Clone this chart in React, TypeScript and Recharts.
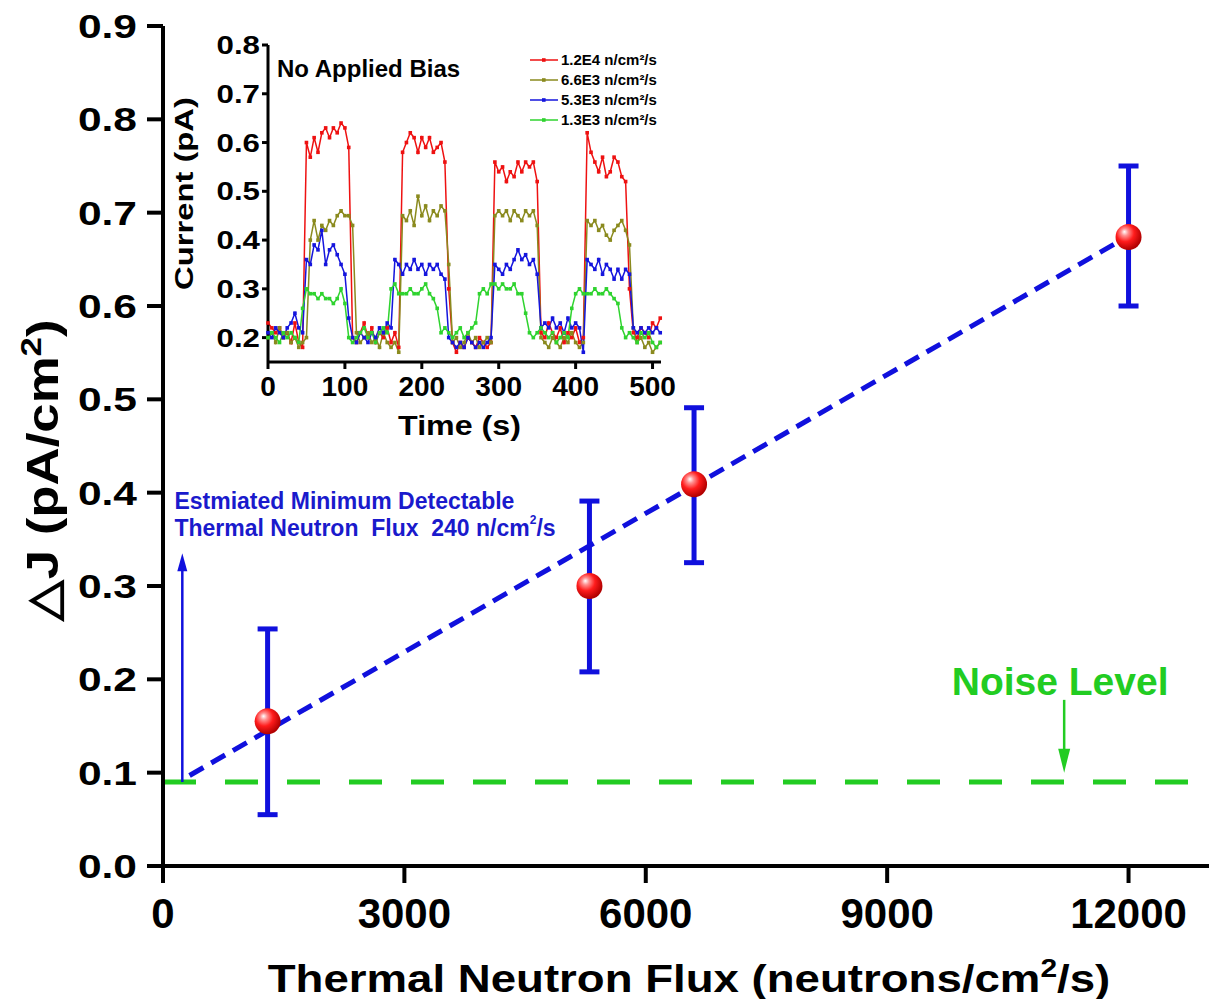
import React from "react";
import {
  ComposedChart,
  LineChart,
  Line,
  Scatter,
  ErrorBar,
  XAxis,
  YAxis,
  ReferenceLine,
  ReferenceDot,
  Legend,
  Label,
} from "recharts";

const FONT = "'Liberation Sans', Arial, Helvetica, sans-serif";

// ---- main chart data ----
const flux = [1300, 5300, 6600, 12000];
const deltaJ = [0.155, 0.3, 0.409, 0.674];
const errLow = [0.055, 0.208, 0.325, 0.6];
const errHigh = [0.254, 0.391, 0.491, 0.75];

const fitX = [330, 12000];
const fitY = [0.097, 0.675];

const noiseLevel = 0.09;
const minFlux = 240;
const minArrowTop = 0.335;
const noiseArrowX = 11200;
const noiseArrowTop = 0.178;
const noiseArrowTip = 0.1;

const xTicks = [0, 3000, 6000, 9000, 12000];
const yTicks = [0, 0.1, 0.2, 0.3, 0.4, 0.5, 0.6, 0.7, 0.8, 0.9];

// ---- inset data (time in s, current in pA) ----
const time = [
  0, 5, 10, 15, 20, 25, 30, 35, 40, 45,
  50, 55, 60, 65, 70, 75, 80, 85, 90, 95,
  100, 105, 110, 115, 120, 125, 130, 135, 140, 145,
  150, 155, 160, 165, 170, 175, 180, 185, 190, 195,
  200, 205, 210, 215, 220, 225, 230, 235, 240, 245,
  250, 255, 260, 265, 270, 275, 280, 285, 290, 295,
  300, 305, 310, 315, 320, 325, 330, 335, 340, 345,
  350, 355, 360, 365, 370, 375, 380, 385, 390, 395,
  400, 405, 410, 415, 420, 425, 430, 435, 440, 445,
  450, 455, 460, 465, 470, 475, 480, 485, 490, 495,
  500, 505, 510,
];

const flux12E4 = [
  0.23, 0.22, 0.21, 0.22, 0.2, 0.21, 0.19, 0.23, 0.19, 0.18,
  0.6, 0.57, 0.61, 0.58, 0.62, 0.63, 0.61, 0.63, 0.62, 0.64,
  0.63, 0.59, 0.2, 0.19, 0.21, 0.23, 0.2, 0.22, 0.19, 0.21,
  0.2, 0.22, 0.19, 0.21, 0.18, 0.58, 0.6, 0.62, 0.61, 0.58,
  0.61, 0.59, 0.61, 0.58, 0.59, 0.6, 0.56, 0.3, 0.19, 0.17,
  0.19, 0.18, 0.2, 0.19, 0.18, 0.2, 0.19, 0.18, 0.19, 0.56,
  0.54, 0.55, 0.52, 0.54, 0.53, 0.56, 0.54, 0.56, 0.55, 0.56,
  0.52, 0.21, 0.2, 0.23, 0.21, 0.2, 0.22, 0.19, 0.21, 0.2,
  0.22, 0.19, 0.2, 0.62, 0.58, 0.56, 0.54, 0.57, 0.53, 0.54,
  0.57, 0.56, 0.53, 0.52, 0.3, 0.21, 0.2, 0.22, 0.21, 0.2,
  0.23, 0.22, 0.24,
];

const flux66E3 = [
  0.2, 0.21, 0.19, 0.22, 0.2, 0.21, 0.19, 0.2, 0.18, 0.19,
  0.2, 0.4, 0.44, 0.4, 0.43, 0.42, 0.44, 0.43, 0.45, 0.46,
  0.45, 0.45, 0.43, 0.21, 0.19, 0.2, 0.21, 0.19, 0.2, 0.18,
  0.21, 0.19, 0.18, 0.19, 0.17, 0.45, 0.44, 0.46, 0.43, 0.49,
  0.45, 0.47, 0.44, 0.46, 0.45, 0.47, 0.46, 0.35, 0.19, 0.2,
  0.18, 0.19, 0.21, 0.19, 0.2, 0.18, 0.19, 0.2, 0.19, 0.45,
  0.46, 0.45, 0.46, 0.44, 0.46, 0.45, 0.44, 0.46, 0.45, 0.46,
  0.43, 0.2, 0.19, 0.18, 0.2, 0.19, 0.18, 0.2, 0.19, 0.21,
  0.19, 0.18, 0.19, 0.44, 0.43, 0.44, 0.42, 0.43, 0.41, 0.4,
  0.42, 0.43, 0.44, 0.42, 0.39, 0.22, 0.19, 0.2, 0.18, 0.19,
  0.17, 0.18, 0.19,
];

const flux53E3 = [
  0.21, 0.2, 0.22, 0.21, 0.2, 0.22, 0.23, 0.25, 0.22, 0.21,
  0.36, 0.35, 0.39, 0.38, 0.42, 0.35, 0.38, 0.39, 0.37, 0.35,
  0.33, 0.24, 0.2, 0.19, 0.21, 0.2, 0.19, 0.21, 0.2, 0.22,
  0.21, 0.23, 0.22, 0.36, 0.35, 0.33, 0.35, 0.34, 0.36, 0.34,
  0.35, 0.33, 0.35, 0.34, 0.35, 0.33, 0.32, 0.2, 0.19, 0.18,
  0.19, 0.18, 0.2, 0.19, 0.18, 0.19, 0.18, 0.19, 0.2, 0.35,
  0.34, 0.33, 0.35, 0.34, 0.36, 0.38, 0.36, 0.37, 0.35, 0.36,
  0.33, 0.22, 0.23, 0.22, 0.24, 0.22, 0.23, 0.21, 0.24, 0.22,
  0.23, 0.22, 0.17, 0.36, 0.35, 0.34, 0.36, 0.33, 0.35, 0.34,
  0.32, 0.34, 0.32, 0.34, 0.33, 0.22, 0.21, 0.22, 0.21, 0.22,
  0.21, 0.22, 0.21,
];

const flux13E3 = [
  0.2, 0.21, 0.2, 0.19, 0.21, 0.2, 0.21, 0.2, 0.19, 0.26,
  0.3, 0.29, 0.29, 0.28, 0.29, 0.28, 0.28, 0.27, 0.28, 0.3,
  0.27, 0.2, 0.19, 0.2, 0.21, 0.22, 0.2, 0.21, 0.19, 0.21,
  0.22, 0.21, 0.3, 0.31, 0.29, 0.29, 0.29, 0.3, 0.29, 0.29,
  0.3, 0.31, 0.29, 0.28, 0.26, 0.21, 0.22, 0.21, 0.2, 0.21,
  0.22, 0.2, 0.21, 0.22, 0.23, 0.29, 0.3, 0.29, 0.31, 0.31,
  0.3, 0.31, 0.3, 0.3, 0.31, 0.29, 0.29, 0.25, 0.21, 0.2,
  0.21, 0.22, 0.21, 0.2, 0.21, 0.19, 0.2, 0.21, 0.2, 0.26,
  0.29, 0.3, 0.29, 0.29, 0.29, 0.3, 0.29, 0.29, 0.3, 0.29,
  0.28, 0.27, 0.22, 0.2, 0.21, 0.2, 0.19, 0.21, 0.2, 0.21,
  0.19, 0.18, 0.19,
];

const insetSeries = [
  { key: "s1", name: "1.2E4 n/cm²/s", color: "#ee1111", values: flux12E4 },
  { key: "s2", name: "6.6E3 n/cm²/s", color: "#8a8a1e", values: flux66E3 },
  { key: "s3", name: "5.3E3 n/cm²/s", color: "#1515dd", values: flux53E3 },
  { key: "s4", name: "1.3E3 n/cm²/s", color: "#2fd32f", values: flux13E3 },
];

const insetXTicks = [0, 100, 200, 300, 400, 500];
const insetYTicks = [0.2, 0.3, 0.4, 0.5, 0.6, 0.7, 0.8];

const points = flux.map((x, i) => ({
  x,
  y: deltaJ[i],
  err: [deltaJ[i] - errLow[i], errHigh[i] - deltaJ[i]],
}));
const fitData = fitX.map((x, i) => ({ x, y: fitY[i] }));
const insetData = time.map((t, i) => {
  const row: any = { t };
  insetSeries.forEach((s) => (row[s.key] = s.values[i]));
  return row;
});

const BLUE = "#1010dd";
const GREEN = "#22cc22";
const AXIS = { stroke: "#000", strokeWidth: 4 };
const AXIS_IN = { stroke: "#000", strokeWidth: 3 };
const NB = "\u00a0";

const Sphere = (p: any) => {
  const id = `ball${p.index}`;
  return (
    <g>
      <defs>
        <radialGradient id={id} cx="0.4" cy="0.38" r="0.62" fx="0.34" fy="0.3">
          <stop offset="0" stopColor="#ffffff" />
          <stop offset="0.22" stopColor="#ff9090" />
          <stop offset="0.55" stopColor="#ff1c1c" />
          <stop offset="1" stopColor="#b00000" />
        </radialGradient>
      </defs>
      <circle cx={p.cx} cy={p.cy} r={13} fill={`url(#${id})`} />
    </g>
  );
};

const MainYTick = (p: any) => (
  <text
    transform={`translate(${p.x},${p.y}) scale(1.25,1)`}
    dy={12}
    textAnchor="end"
    fontFamily={FONT}
    fontWeight="bold"
    fontSize={34}
    fill="#000"
  >
    {Number(p.payload.value).toFixed(1)}
  </text>
);

const MainXTick = (p: any) => (
  <text x={p.x} y={p.y} dy={30} textAnchor="middle" fontFamily={FONT} fontWeight="bold" fontSize={42} fill="#000">
    {p.payload.value}
  </text>
);

const InsetYTick = (p: any) => (
  <text
    transform={`translate(${p.x},${p.y}) scale(1.25,1)`}
    dy={9}
    textAnchor="end"
    fontFamily={FONT}
    fontWeight="bold"
    fontSize={25}
    fill="#000"
  >
    {Number(p.payload.value).toFixed(1)}
  </text>
);

const InsetXTick = (p: any) => (
  <text x={p.x} y={p.y} dy={20} textAnchor="middle" fontFamily={FONT} fontWeight="bold" fontSize={28} fill="#000">
    {p.payload.value}
  </text>
);

const UpArrow = (p: any) => (
  <g>
    <line x1={p.x1} y1={p.y1} x2={p.x2} y2={p.y2 + 14} stroke={BLUE} strokeWidth={2.5} />
    <polygon points={`${p.x2 - 5},${p.y2 + 18} ${p.x2 + 5},${p.y2 + 18} ${p.x2},${p.y2}`} fill={BLUE} />
  </g>
);

const DownArrow = (p: any) => (
  <g>
    <line x1={p.x1} y1={p.y1} x2={p.x2} y2={p.y2 - 20} stroke={GREEN} strokeWidth={2.5} />
    <polygon points={`${p.x2 - 6},${p.y2 - 24} ${p.x2 + 6},${p.y2 - 24} ${p.x2},${p.y2}`} fill={GREEN} />
  </g>
);

const InsetLegend = (props: any) => (
  <div style={{ fontFamily: FONT, fontWeight: "bold", fontSize: 15, lineHeight: "20px", color: "#000" }}>
    {(props.payload || []).map((e: any) => (
      <div key={e.value} style={{ display: "flex", alignItems: "center", whiteSpace: "nowrap" }}>
        <svg width={30} height={10} style={{ marginRight: 1 }}>
          <line x1={0} y1={5} x2={28} y2={5} stroke={e.color} strokeWidth={1.5} />
          <rect x={12} y={3.2} width={3.6} height={3.6} fill={e.color} />
        </svg>
        <span>{e.value}</span>
      </div>
    ))}
  </div>
);

function Inset() {
  return (
    <LineChart width={530} height={420} data={insetData} margin={{ top: 15, right: 19, left: 0, bottom: 0 }}>
      <XAxis
        dataKey="t"
        type="number"
        domain={[0, 511]}
        ticks={insetXTicks}
        height={88}
        axisLine={AXIS_IN}
        tickLine={AXIS_IN}
        tickSize={7}
        tickMargin={7}
        tick={InsetXTick}
      >
        <Label
          content={(lp: any) => (
            <text
              transform={`translate(${lp.viewBox.x + lp.viewBox.width / 2 - 5},${lp.viewBox.y + 73}) scale(1.15,1)`}
              textAnchor="middle"
              fontFamily={FONT}
              fontWeight="bold"
              fontSize={28}
              fill="#000"
            >
              Time (s)
            </text>
          )}
        />
      </XAxis>
      <XAxis xAxisId="top" orientation="top" type="number" domain={[0, 511]} ticks={insetXTicks} height={0} axisLine={AXIS_IN} tickLine={AXIS_IN} tickSize={7} tick={false} />
      <YAxis
        type="number"
        domain={[0.15, 0.8]}
        ticks={insetYTicks}
        width={118}
        axisLine={AXIS_IN}
        tickLine={AXIS_IN}
        tickSize={6}
        tickMargin={2}
        tick={InsetYTick}
      >
        <Label
          content={(lp: any) => (
            <text
              transform={`translate(43,${lp.viewBox.y + lp.viewBox.height / 2 - 10}) rotate(-90) scale(1.26,1)`}
              textAnchor="middle"
              fontFamily={FONT}
              fontWeight="bold"
              fontSize={26}
              fill="#000"
            >
              Current (pA)
            </text>
          )}
        />
      </YAxis>
      <YAxis yAxisId="right" orientation="right" type="number" domain={[0.15, 0.8]} ticks={insetYTicks} width={0} axisLine={AXIS_IN} tickLine={AXIS_IN} tickSize={6} tick={false} />
      <Legend
        layout="vertical"
        align="center"
        verticalAlign="middle"
        itemSorter="dataKey"
        wrapperStyle={{ top: 20, left: 380, width: "auto" }}
        content={InsetLegend}
      />
      <ReferenceDot
        x={0}
        y={0.8}
        ifOverflow="visible"
        shape={(p: any) => (
          <text x={p.cx + 9} y={p.cy + 32} fontFamily={FONT} fontWeight="bold" fontSize={24} fill="#000">
            No Applied Bias
          </text>
        )}
      />
      {insetSeries.map((s) => (
        <Line
          key={s.key}
          dataKey={s.key}
          name={s.name}
          type="linear"
          stroke={s.color}
          strokeWidth={1.5}
          dot={(d: any) => <rect key={`${s.key}-${d.index}`} x={d.cx - 1.8} y={d.cy - 1.8} width={3.6} height={3.6} fill={s.color} />}
          isAnimationActive={false}
        />
      ))}
    </LineChart>
  );
}

export default function App() {
  return (
    <div style={{ position: "absolute", left: 0, top: 0, width: 1215, height: 999, background: "#fff", overflow: "hidden" }}>
      <ComposedChart width={1215} height={999} margin={{ top: 26, right: 6, left: 0, bottom: 0 }}>
        <XAxis
          dataKey="x"
          type="number"
          domain={[0, 13000]}
          ticks={xTicks}
          height={133}
          axisLine={AXIS}
          tickLine={AXIS}
          tickSize={17}
          tickMargin={15}
          tick={MainXTick}
        >
          <Label
            content={(lp: any) => (
              <text
                transform={`translate(${lp.viewBox.x + lp.viewBox.width / 2 + 3},${lp.viewBox.y + 126}) scale(1.2,1)`}
                textAnchor="middle"
                fontFamily={FONT}
                fontWeight="bold"
                fontSize={38}
                fill="#000"
              >
                Thermal Neutron Flux (neutrons/cm
                <tspan dy={-15} fontSize={25}>2</tspan>
                <tspan dy={15}>/s)</tspan>
              </text>
            )}
          />
        </XAxis>
        <XAxis xAxisId="top" orientation="top" type="number" domain={[0, 13000]} ticks={xTicks} height={0} axisLine={AXIS} tickLine={AXIS} tickSize={14} tick={false} />
        <YAxis
          dataKey="y"
          type="number"
          domain={[0, 0.9]}
          ticks={yTicks}
          width={163}
          axisLine={AXIS}
          tickLine={AXIS}
          tickSize={16}
          tickMargin={10}
          tick={MainYTick}
        >
          <Label
            content={(lp: any) => (
              <text
                transform={`translate(58,${lp.viewBox.y + lp.viewBox.height / 2 + 24}) rotate(-90) scale(1.2,1)`}
                textAnchor="middle"
                fontFamily={FONT}
                fontWeight="bold"
                fontSize={44}
                fill="#000"
              >
                △J (pA/cm
                <tspan dy={-17} fontSize={29}>2</tspan>
                <tspan dy={17}>)</tspan>
              </text>
            )}
          />
        </YAxis>
        <YAxis yAxisId="right" orientation="right" type="number" domain={[0, 0.9]} ticks={yTicks} width={0} axisLine={AXIS} tickLine={AXIS} tickSize={16} tick={false} />

        <ReferenceLine y={noiseLevel} stroke={GREEN} strokeWidth={5} strokeDasharray="33 29" />
        <ReferenceLine
          segment={[{ x: minFlux, y: noiseLevel }, { x: minFlux, y: minArrowTop }]}
          ifOverflow="visible"
          shape={UpArrow}
        />
        <ReferenceLine
          segment={[{ x: noiseArrowX, y: noiseArrowTop }, { x: noiseArrowX, y: noiseArrowTip }]}
          ifOverflow="visible"
          shape={DownArrow}
        />
        <ReferenceDot
          x={11150}
          y={0.183}
          ifOverflow="visible"
          shape={(p: any) => (
            <text x={p.cx} y={p.cy} textAnchor="middle" fontFamily={FONT} fontWeight="bold" fontSize={39} fill={GREEN}>
              Noise Level
            </text>
          )}
        />
        <ReferenceDot
          x={142}
          y={0.382}
          ifOverflow="visible"
          shape={(p: any) => (
            <g>
              <text x={p.cx} y={p.cy} fontFamily={FONT} fontWeight="bold" fontSize={23} fill="#1a1acc">
                Estmiated Minimum Detectable
              </text>
              <text x={p.cx} y={p.cy + 27} fontFamily={FONT} fontWeight="bold" fontSize={23} fill="#1a1acc">
                {`Thermal Neutron ${NB}Flux ${NB}240 n/cm`}
                <tspan dy={-12} fontSize={12}>2</tspan>
                <tspan dy={12}>/s</tspan>
              </text>
            </g>
          )}
        />

        <Scatter data={points} fill="#ff1c1c" shape={Sphere} isAnimationActive={false}>
          <ErrorBar dataKey="err" direction="y" width={10} stroke={BLUE} strokeWidth={5} isAnimationActive={false} />
        </Scatter>
        <Line
          data={fitData}
          dataKey="y"
          type="linear"
          stroke={BLUE}
          strokeWidth={5}
          strokeDasharray="16 9"
          dot={false}
          isAnimationActive={false}
        />
      </ComposedChart>
      <div style={{ position: "absolute", left: 150, top: 30 }}>
        <Inset />
      </div>
    </div>
  );
}
